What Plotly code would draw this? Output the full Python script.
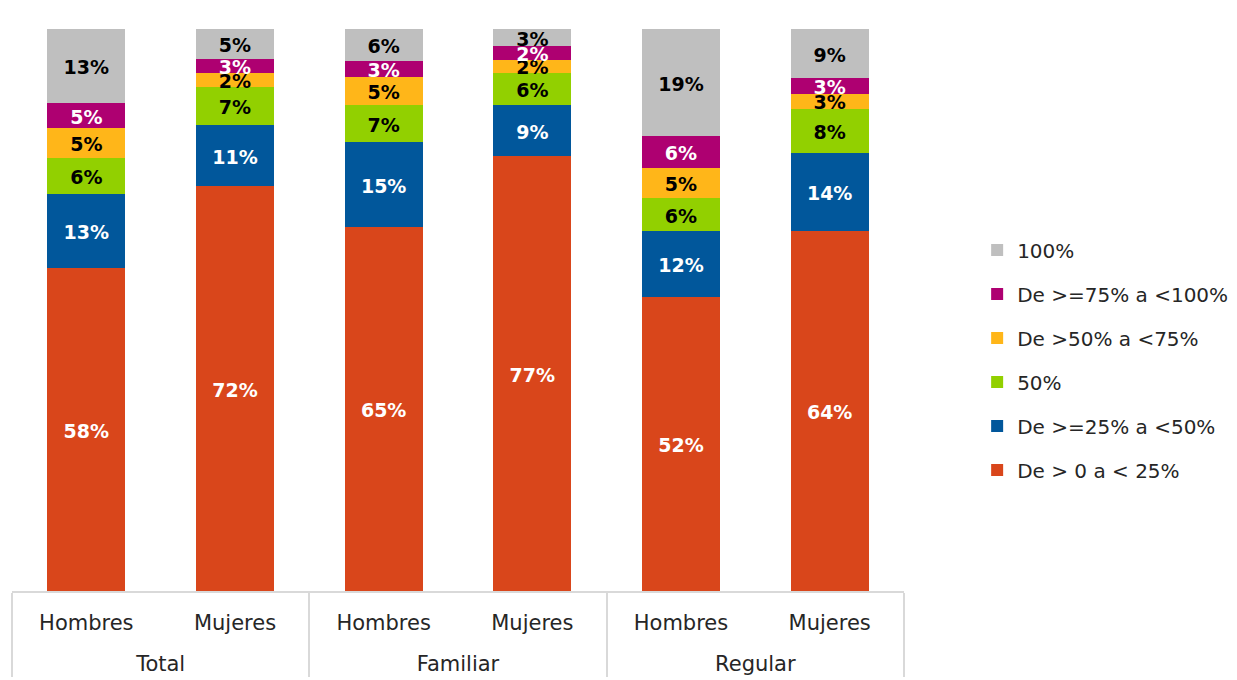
import plotly.graph_objects as go

groups = ["Total", "Total", "Familiar", "Familiar", "Regular", "Regular"]
subs = ["Hombres", "Mujeres", "Hombres", "Mujeres", "Hombres", "Mujeres"]

series_names = ["De > 0 a < 25%", "De >=25% a <50%", "50%", "De >50% a <75%",
                "De >=75% a <100%", "100%"]
v_0_25 = [57.5, 72.0, 64.8, 77.4, 52.3, 64.1]
v_25_50 = [13.2, 11.0, 15.1, 9.1, 11.7, 13.9]
v_50 = [6.4, 6.7, 6.6, 5.7, 6.0, 7.8]
v_50_75 = [5.2, 2.4, 5.0, 2.3, 5.3, 2.7]
v_75_100 = [4.6, 2.6, 2.8, 2.4, 5.7, 2.7]
v_100 = [13.1, 5.3, 5.7, 3.1, 19.0, 8.8]
series_values = [v_0_25, v_25_50, v_50, v_50_75, v_75_100, v_100]

colors = ["#D9461B", "#01579B", "#92D000", "#FFB619", "#AE0071", "#BFBFBF"]
text_colors = ["white", "white", "black", "black", "white", "black"]

FONT = "DejaVu Sans"
LABEL_DROP = 0.6  # small downward nudge of labels (in axis units)

# extra blank line under first-level labels to push the group level down
sub_labels = [s + "<br> " for s in subs]
x = [groups, sub_labels]

fig = go.Figure()
n = len(series_names)
for i, (name, vals) in enumerate(zip(series_names, series_values)):
    fig.add_trace(go.Bar(
        x=x, y=vals, name=name, legendgroup=name, legendrank=100 + (n - i),
        marker=dict(color=colors[i], line=dict(width=0)),
        width=0.525,
    ))

# labels at segment centers
base = [0] * len(subs)
for i, vals in enumerate(series_values):
    centers = [b + v / 2 - LABEL_DROP for b, v in zip(base, vals)]
    fig.add_trace(go.Scatter(
        x=x, y=centers, mode="text",
        text=[f"{round(v)}%" for v in vals],
        textfont=dict(family=FONT, size=19, color=text_colors[i], weight="bold"),
        showlegend=False, hoverinfo="skip", cliponaxis=False,
    ))
    base = [b + v for b, v in zip(base, vals)]

fig.update_layout(
    barmode="stack",
    width=1229, height=672,
    margin=dict(l=4, r=330, t=21, b=89),
    paper_bgcolor="white", plot_bgcolor="white",
    font=dict(family=FONT, size=20, color="#262626"),
    showlegend=True,
    legend=dict(
        traceorder="grouped", tracegroupgap=15,
        x=1.082, xanchor="left", y=0.411, yanchor="middle",
        font=dict(family=FONT, size=20, color="#262626"),
        itemwidth=30,
    ),
    xaxis=dict(
        type="multicategory",
        showline=True, linecolor="#D9D9D9", linewidth=1.5,
        showdividers=True, dividercolor="#D9D9D9", dividerwidth=1.5,
        tickfont=dict(family=FONT, size=21, color="#262626"),
        ticks="", ticklabelstandoff=12,
    ),
    yaxis=dict(range=[0, 100], visible=False, fixedrange=True),
)

fig.write_html("out.html")
